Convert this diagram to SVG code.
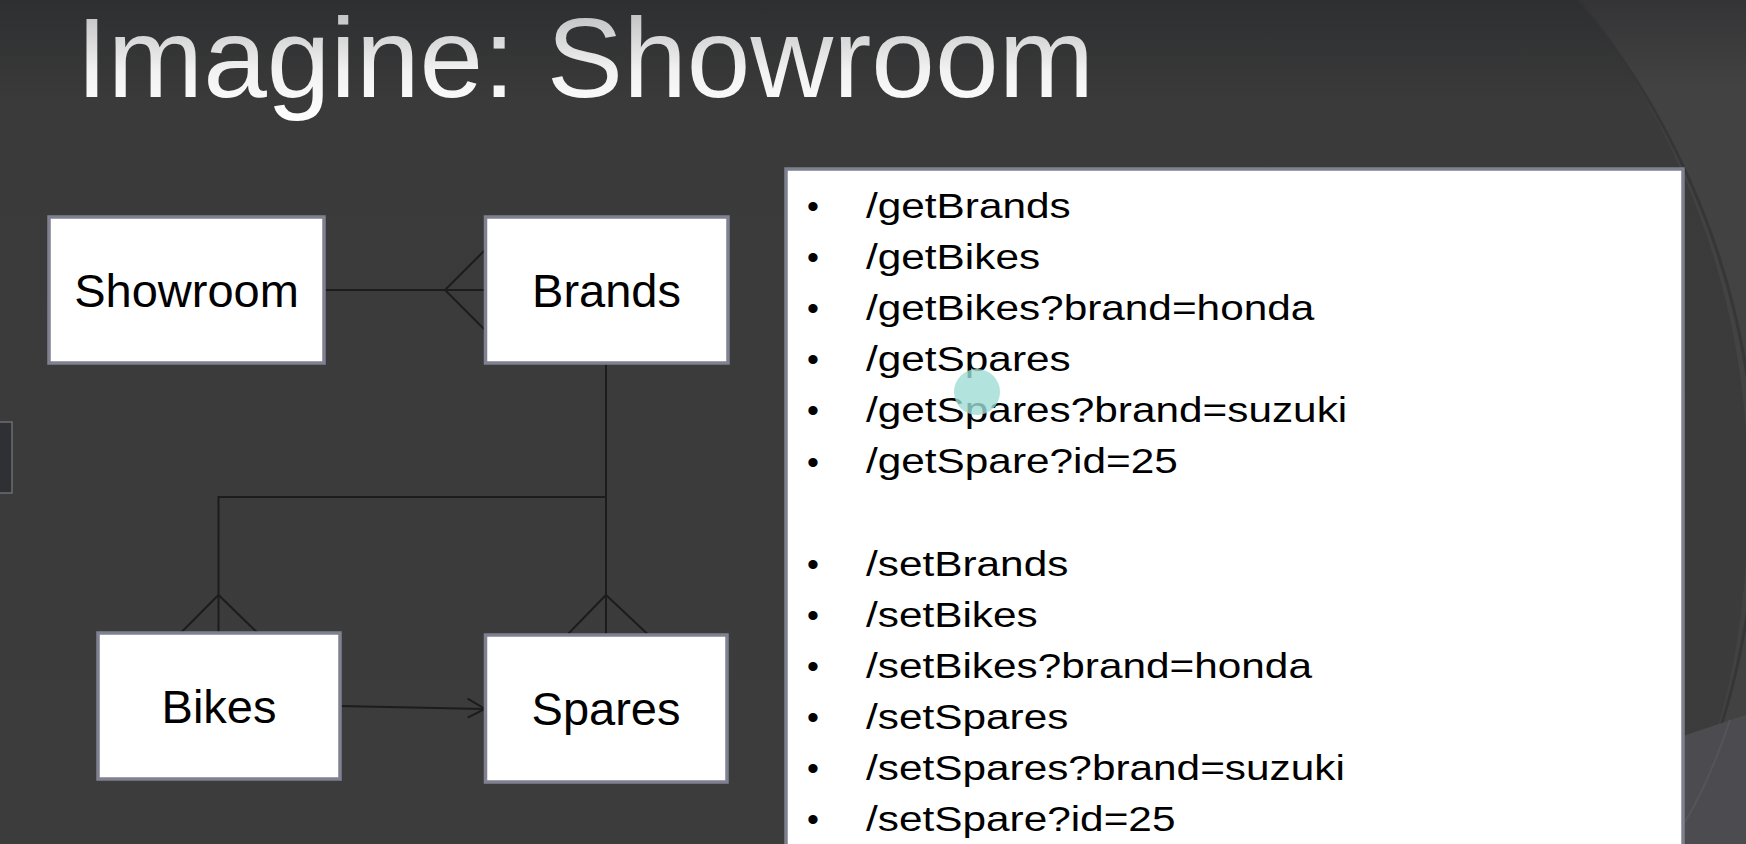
<svg xmlns="http://www.w3.org/2000/svg" width="1746" height="844" viewBox="0 0 1746 844">
<defs>
  <linearGradient id="bg" x1="0" y1="0" x2="0" y2="1">
    <stop offset="0" stop-color="#2e2f31"/>
    <stop offset="0.12" stop-color="#3a3a3a"/>
    <stop offset="1" stop-color="#3c3c3c"/>
  </linearGradient>
  <linearGradient id="title" x1="0" y1="0" x2="0" y2="1">
    <stop offset="0" stop-color="#b4b4b6"/>
    <stop offset="0.6" stop-color="#f2f2f2"/>
    <stop offset="1" stop-color="#ffffff"/>
  </linearGradient>
  <linearGradient id="outer" x1="0" y1="0" x2="0" y2="1">
    <stop offset="0" stop-color="#343436"/>
    <stop offset="0.2" stop-color="#424242"/>
    <stop offset="1" stop-color="#434343"/>
  </linearGradient>
  <style>
    .node rect { fill:#ffffff; stroke:#7f8190; stroke-width:3.5; }
    .node text { font-family:"Liberation Sans", Arial, sans-serif; font-size:47px; fill:#000000; text-anchor:middle; }
    .conn { fill:none; stroke:#1c1c1c; stroke-width:2; }
    .list { font-family:"Liberation Sans", Arial, sans-serif; font-size:35px; fill:#000000; }
    .bul { font-family:"Liberation Sans", Arial, sans-serif; font-size:34px; fill:#000000; text-anchor:middle; }
  </style>
</defs>

<!-- background -->
<rect x="0" y="0" width="1746" height="844" fill="url(#bg)"/>
<path d="M1578,0 A776,776 0 0 1 1746,430 L1746,0 Z" fill="url(#outer)"/>
<path d="M1746,560 A776,776 0 0 1 1685,820 L1685,844 L1746,844 Z" fill="#424242"/>
<path d="M1578,0 A776,776 0 0 1 1685,820" fill="none" stroke="#323234" stroke-width="3" opacity="0.7"/>
<polygon points="1683,736 1746,715 1746,844 1683,844" fill="#4c4b4f"/>
<path d="M1730,720 Q1710,780 1685,822" fill="none" stroke="#555458" stroke-width="2"/>
<rect x="-2" y="422" width="14" height="71" fill="#2f3034" stroke="#6b6d72" stroke-width="1.5"/>

<!-- title -->
<text x="76" y="97" font-family="'Liberation Sans', Arial, sans-serif" font-size="113" fill="url(#title)" textLength="1018" lengthAdjust="spacingAndGlyphs">Imagine: Showroom</text>

<!-- connectors -->
<g id="connectors">
  <path class="conn" d="M324,290 L485,290"/>
  <path class="conn" d="M485,250 L445,290 L485,330"/>
  <path class="conn" d="M606,363 L606,635"/>
  <path class="conn" d="M606,497 L218.5,497 L218.5,633"/>
  <path class="conn" d="M179.6,634 L218.5,595 L258.7,634"/>
  <path class="conn" d="M568,634 L606,595 L647.5,634"/>
  <path class="conn" d="M340,706 L484,709"/>
  <path class="conn" d="M467.6,698.7 L485,709 L467.6,717.7"/>
</g>

<!-- nodes -->
<g id="node-showroom" class="node">
  <rect x="49" y="217" width="275" height="146"/>
  <text x="186.5" y="307">Showroom</text>
</g>
<g id="node-brands" class="node">
  <rect x="485.5" y="217" width="242.5" height="146"/>
  <text x="606.5" y="307">Brands</text>
</g>
<g id="node-bikes" class="node">
  <rect x="98" y="633" width="242" height="146"/>
  <text x="219" y="723">Bikes</text>
</g>
<g id="node-spares" class="node">
  <rect x="485.5" y="635" width="241.5" height="147"/>
  <text x="606" y="725">Spares</text>
</g>

<!-- API list -->
<g id="api-list">
  <rect x="786" y="169" width="897" height="690" fill="#ffffff" stroke="#7e808e" stroke-width="3.5"/>
  <g class="bul">
    <text x="813" y="218">•</text>
    <text x="813" y="269.1">•</text>
    <text x="813" y="320.2">•</text>
    <text x="813" y="371.3">•</text>
    <text x="813" y="422.4">•</text>
    <text x="813" y="473.5">•</text>
    <text x="813" y="575.7">•</text>
    <text x="813" y="626.8">•</text>
    <text x="813" y="677.9">•</text>
    <text x="813" y="729">•</text>
    <text x="813" y="780.1">•</text>
    <text x="813" y="831.2">•</text>
  </g>
  <g class="list" transform="translate(866,0) scale(1.21,1)">
    <text x="0" y="218">/getBrands</text>
    <text x="0" y="269.1">/getBikes</text>
    <text x="0" y="320.2">/getBikes?brand=honda</text>
    <text x="0" y="371.3">/getSpares</text>
    <text x="0" y="422.4">/getSpares?brand=suzuki</text>
    <text x="0" y="473.5">/getSpare?id=25</text>
    <text x="0" y="575.7">/setBrands</text>
    <text x="0" y="626.8">/setBikes</text>
    <text x="0" y="677.9">/setBikes?brand=honda</text>
    <text x="0" y="729">/setSpares</text>
    <text x="0" y="780.1">/setSpares?brand=suzuki</text>
    <text x="0" y="831.2">/setSpare?id=25</text>
  </g>
  <circle cx="977" cy="392" r="23" fill="#9fdcd5" opacity="0.8"/>
</g>
</svg>
